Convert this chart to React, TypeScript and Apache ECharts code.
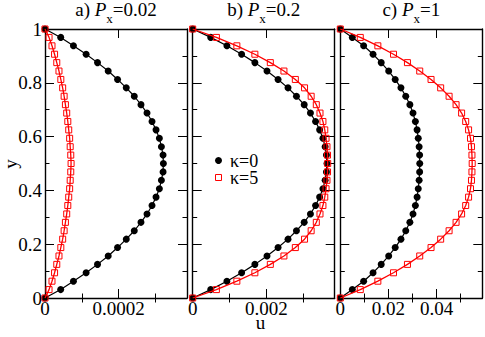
import React, { useEffect, useRef } from "react";
import * as echarts from "echarts";

// sampling positions across the channel
const yValues = [
  0, 0.03125, 0.0625, 0.09375, 0.125, 0.15625, 0.1875, 0.21875, 0.25, 0.28125, 0.3125,
  0.34375, 0.375, 0.40625, 0.4375, 0.46875, 0.5, 0.53125, 0.5625, 0.59375, 0.625, 0.65625,
  0.6875, 0.71875, 0.75, 0.78125, 0.8125, 0.84375, 0.875, 0.90625, 0.9375, 0.96875, 1,
];

// panel a) P_x = 0.02
const uA_k0 = [
  0, 4.27e-5, 7.73e-5, 1.118e-4, 1.427e-4, 1.718e-4, 1.973e-4, 2.209e-4, 2.427e-4, 2.609e-4,
  2.773e-4, 2.909e-4, 3.018e-4, 3.109e-4, 3.164e-4, 3.209e-4, 3.218e-4, 3.209e-4, 3.164e-4,
  3.109e-4, 3.018e-4, 2.909e-4, 2.773e-4, 2.609e-4, 2.427e-4, 2.209e-4, 1.973e-4, 1.718e-4,
  1.427e-4, 1.118e-4, 7.73e-5, 4.27e-5, 0,
];
const uA_k5 = [
  0, 1.1e-5, 1.9e-5, 2.6e-5, 3.2e-5, 3.8e-5, 4.3e-5, 4.8e-5, 5.2e-5, 5.55e-5, 5.9e-5, 6.2e-5,
  6.45e-5, 6.7e-5, 6.85e-5, 7.0e-5, 7.09e-5, 7.0e-5, 6.85e-5, 6.7e-5, 6.45e-5, 6.2e-5, 5.9e-5,
  5.55e-5, 5.2e-5, 4.8e-5, 4.3e-5, 3.8e-5, 3.2e-5, 2.6e-5, 1.9e-5, 1.1e-5, 0,
];

// panel b) P_x = 0.2
const uB_k0 = [
  0, 4.9e-4, 9.3e-4, 1.33e-3, 1.69e-3, 2.02e-3, 2.32e-3, 2.59e-3, 2.82e-3, 3.03e-3, 3.2e-3,
  3.34e-3, 3.45e-3, 3.54e-3, 3.6e-3, 3.635e-3, 3.65e-3, 3.635e-3, 3.6e-3, 3.54e-3, 3.45e-3,
  3.34e-3, 3.2e-3, 3.03e-3, 2.82e-3, 2.59e-3, 2.32e-3, 2.02e-3, 1.69e-3, 1.33e-3, 9.3e-4,
  4.9e-4, 0,
];
const uB_k5 = [
  0, 6.44e-4, 1.2e-3, 1.69e-3, 2.11e-3, 2.48e-3, 2.79e-3, 3.04e-3, 3.22e-3, 3.36e-3, 3.46e-3,
  3.54e-3, 3.59e-3, 3.625e-3, 3.65e-3, 3.665e-3, 3.67e-3, 3.665e-3, 3.65e-3, 3.625e-3, 3.59e-3,
  3.54e-3, 3.46e-3, 3.36e-3, 3.22e-3, 3.04e-3, 2.79e-3, 2.48e-3, 2.11e-3, 1.69e-3, 1.2e-3,
  6.44e-4, 0,
];

// panel c) P_x = 1
const uC_k0 = [
  0, 0.005, 0.0097, 0.0136, 0.017, 0.0201, 0.0228, 0.0252, 0.0272, 0.0289, 0.0302, 0.0312,
  0.0319, 0.0324, 0.03275, 0.03295, 0.033, 0.03295, 0.03275, 0.0324, 0.0319, 0.0312, 0.0302,
  0.0289, 0.0272, 0.0252, 0.0228, 0.0201, 0.017, 0.0136, 0.0097, 0.005, 0,
];
const uC_k5 = [
  0, 0.0083, 0.0156, 0.0221, 0.0279, 0.033, 0.0377, 0.0417, 0.0452, 0.0481, 0.0504, 0.0521,
  0.0533, 0.0541, 0.0545, 0.0547, 0.0548, 0.0547, 0.0545, 0.0541, 0.0533, 0.0521, 0.0504,
  0.0481, 0.0452, 0.0417, 0.0377, 0.033, 0.0279, 0.0221, 0.0156, 0.0083, 0,
];

const panelPrefix = ["a) ", "b) ", "c) "];
const panelValue = ["=0.02", "=0.2", "=1"];
const xMax = [0.000386, 0.00386, 0.059];
const xMajorTicks = [[0, 0.0002], [0, 0.002], [0, 0.02, 0.04]];
const xMinorTicks = [[0.0001, 0.0003], [0.001, 0.003], [0.01, 0.03, 0.05]];
const xLabelText: Record<string, string> = { "0": "0", "0.0002": "0.0002", "0.002": "0.002", "0.02": "0.02", "0.04": "0.04" };
const legendNames = ["κ=0", "κ=5"];
const panelData = [
  [uA_k0, uA_k5],
  [uB_k0, uB_k5],
  [uC_k0, uC_k5],
];

const FONT = "Liberation Serif, serif";
const GRID_LEFT = [45, 192.7, 340.3];
const GRID_W = 142;
const GRID_TOP = 29;
const GRID_H = 269;

function measure(text: string, size: number, italic = false): number {
  const c = document.createElement("canvas").getContext("2d");
  if (!c) return text.length * size * 0.5;
  c.font = `${italic ? "italic " : ""}${size}px Liberation Serif`;
  return c.measureText(text).width;
}

export default function App() {
  const ref = useRef<HTMLDivElement>(null);
  useEffect(() => {
    if (!ref.current) return;
    const chart = echarts.init(ref.current, null, { renderer: "svg" });

    const grids: any[] = [];
    const xAxes: any[] = [];
    const yAxes: any[] = [];
    const series: any[] = [];
    const graphics: any[] = [];

    const tickLine = { color: "#000", width: 1 };
    const frameLine = { color: "#000", width: 1.4 };

    for (let p = 0; p < 3; p++) {
      grids.push({ left: GRID_LEFT[p], top: GRID_TOP, width: GRID_W, height: GRID_H, show: false });
      const base = { type: "value", gridIndex: p, min: 0, max: xMax[p], splitLine: { show: false } };
      // bottom major
      xAxes.push({
        ...base,
        position: "bottom",
        axisLine: { show: true, onZero: false, lineStyle: frameLine },
        axisTick: { show: true, inside: true, length: 9, customValues: xMajorTicks[p], lineStyle: tickLine },
        axisLabel: {
          show: true,
          customValues: xMajorTicks[p],
          margin: 3,
          lineHeight: 15,
          fontSize: 19,
          fontFamily: FONT,
          color: "#000",
          formatter: (v: number) => xLabelText[String(v)] ?? String(v),
        },
      });
      // bottom minor
      xAxes.push({
        ...base,
        position: "bottom",
        axisLine: { show: false },
        axisTick: { show: true, inside: true, length: 4.5, customValues: xMinorTicks[p], lineStyle: tickLine },
        axisLabel: { show: false },
      });
      // top major
      xAxes.push({
        ...base,
        position: "top",
        axisLine: { show: true, onZero: false, lineStyle: frameLine },
        axisTick: { show: true, inside: true, length: 9, customValues: xMajorTicks[p], lineStyle: tickLine },
        axisLabel: { show: false },
      });
      // top minor
      xAxes.push({
        ...base,
        position: "top",
        axisLine: { show: false },
        axisTick: { show: true, inside: true, length: 4.5, customValues: xMinorTicks[p], lineStyle: tickLine },
        axisLabel: { show: false },
      });
      const ybase = {
        type: "value",
        gridIndex: p,
        min: 0,
        max: 1,
        interval: 0.2,
        splitLine: { show: false },
        minorSplitLine: { show: false },
        axisLine: { show: true, onZero: false, lineStyle: frameLine },
        axisTick: { show: true, inside: true, length: 9, lineStyle: tickLine },
        minorTick: { show: true, splitNumber: 2, length: 4.5, lineStyle: tickLine },
      };
      yAxes.push({
        ...ybase,
        position: "left",
        axisLabel: {
          show: p === 0,
          margin: 3,
          fontSize: 19,
          fontFamily: FONT,
          color: "#000",
        },
      });
      yAxes.push({ ...ybase, position: "right", axisLabel: { show: false } });

      const [k0, k5] = panelData[p];
      series.push({
        name: legendNames[0],
        type: "line",
        xAxisIndex: p * 4,
        yAxisIndex: p * 2,
        data: yValues.map((y, i) => [k0[i], y]),
        symbol: "circle",
        symbolSize: 7,
        lineStyle: { color: "#000", width: 1.2 },
        itemStyle: { color: "#000" },
        z: 2,
      });
      series.push({
        name: legendNames[1],
        type: "line",
        xAxisIndex: p * 4,
        yAxisIndex: p * 2,
        data: yValues.map((y, i) => [k5[i], y]),
        symbol: "rect",
        symbolSize: 6,
        showAllSymbol: true,
        lineStyle: { color: "#ff0000", width: 1.3 },
        itemStyle: { color: "rgba(255,255,255,0)", borderColor: "#ff0000", borderWidth: 1 },
        z: 3,
      });

      // panel title with italic P and subscript x
      const wPre = measure(panelPrefix[p], 19);
      const wP = measure("P", 19, true);
      const wx = measure("x", 13);
      const wVal = measure(panelValue[p], 19);
      const total = wPre + wP + wx + wVal;
      const cx = GRID_LEFT[p] + GRID_W / 2;
      const x0 = cx - total / 2;
      const midY = 9.8;
      graphics.push({
        type: "text",
        x: x0,
        y: midY,
        style: { text: panelPrefix[p], font: `19px ${FONT}`, fill: "#000", align: "left", verticalAlign: "middle" },
      });
      graphics.push({
        type: "text",
        x: x0 + wPre,
        y: midY,
        style: { text: "P", font: `italic 19px ${FONT}`, fill: "#000", align: "left", verticalAlign: "middle" },
      });
      graphics.push({
        type: "text",
        x: x0 + wPre + wP,
        y: 18.3,
        style: { text: "x", font: `13px ${FONT}`, fill: "#000", align: "left", verticalAlign: "middle" },
      });
      graphics.push({
        type: "text",
        x: x0 + wPre + wP + wx,
        y: midY,
        style: { text: panelValue[p], font: `19px ${FONT}`, fill: "#000", align: "left", verticalAlign: "middle" },
      });
    }

    // axis names
    graphics.push({
      type: "text",
      x: 10,
      y: 164,
      rotation: Math.PI / 2,
      style: { text: "y", font: `19px ${FONT}`, fill: "#000", align: "center", verticalAlign: "middle", lineHeight: 18 },
    });
    graphics.push({
      type: "text",
      x: 260.5,
      y: 322,
      style: { text: "u", font: `19px ${FONT}`, fill: "#000", align: "center", verticalAlign: "middle", lineHeight: 10 },
    });

    // legend
    graphics.push({ type: "circle", shape: { cx: 218.5, cy: 160.5, r: 3.5 }, style: { fill: "#000" }, z: 10 });
    graphics.push({
      type: "text",
      x: 230,
      y: 161,
      style: { text: legendNames[0], font: `18px ${FONT}`, fill: "#000", align: "left", verticalAlign: "middle", lineHeight: 14 },
      z: 10,
    });
    graphics.push({
      type: "rect",
      shape: { x: 215.5, y: 174.5, width: 6, height: 6 },
      style: { fill: "none", stroke: "#ff0000", lineWidth: 1 },
      z: 10,
    });
    graphics.push({
      type: "text",
      x: 230,
      y: 177.5,
      style: { text: legendNames[1], font: `18px ${FONT}`, fill: "#000", align: "left", verticalAlign: "middle", lineHeight: 14 },
      z: 10,
    });

    chart.setOption({
      animation: false,
      backgroundColor: "#fff",
      grid: grids,
      xAxis: xAxes,
      yAxis: yAxes,
      series,
      graphic: graphics,
    });
    return () => chart.dispose();
  }, []);
  return <div ref={ref} style={{ width: 485, height: 337, position: "absolute", left: 0, top: 0 }} />;
}
